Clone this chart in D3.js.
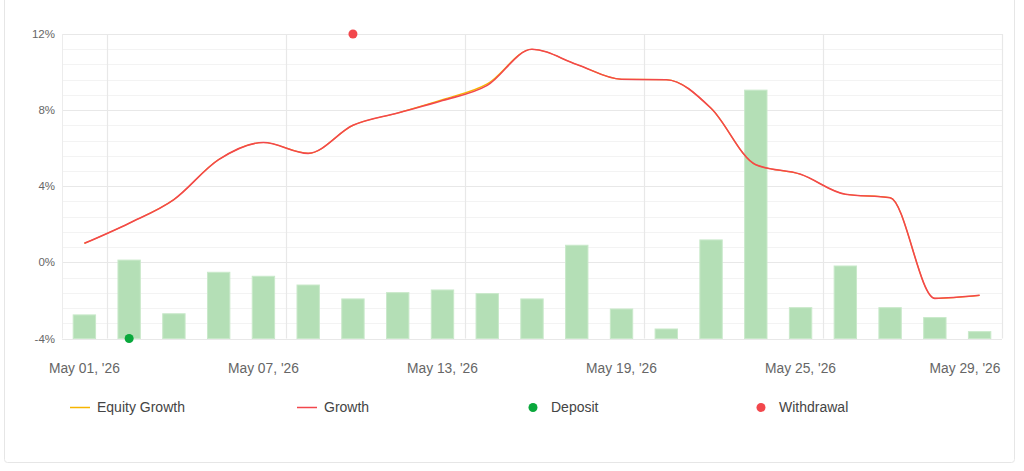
<!DOCTYPE html>
<html>
<head>
<meta charset="utf-8">
<script src="https://cdn.jsdelivr.net/npm/d3@7"></script>
<style>
  html, body { margin: 0; padding: 0; background: #fff; }
  svg { display: block; font-family: "Liberation Sans", Arial, sans-serif; }
  .y-label { fill: #666; font-size: 11.5px; }
  .x-label { fill: #666; font-size: 13.8px; }
  .legend text { fill: #444; font-size: 14px; }
</style>
</head>
<body>
<div id="chart"></div>
<script>
// trading days of May 2026
const DAYS = ["May 01", "May 04", "May 05", "May 06", "May 07", "May 08", "May 11", "May 12",
              "May 13", "May 14", "May 15", "May 18", "May 19", "May 20", "May 21", "May 22",
              "May 25", "May 26", "May 27", "May 28", "May 29"];
const TICK_DAYS = ["May 01", "May 07", "May 13", "May 19", "May 25", "May 29"];

// daily result bars (%), growth curves (%)
const DAILY   = [-2.76, 0.12, -2.7, -0.52, -0.73, -1.19, -1.92, -1.59, -1.45, -1.64, -1.92,
                 0.9, -2.45, -3.5, 1.18, 9.05, -2.38, -0.19, -2.38, -2.9, -3.64];
const GROWTH  = [1.0, 2.06, 3.3, 5.4, 6.3, 5.73, 7.2, 7.85, 8.5, 9.3, 11.2,
                 10.4, 9.62, 9.6, 8.1, 5.13, 4.63, 3.58, 3.4, -1.89, -1.73];
const EQUITY  = [1.0, 2.06, 3.3, 5.4, 6.3, 5.73, 7.2, 7.85, 8.55, 9.38, 11.2,
                 10.4, 9.62, 9.6, 8.1, 5.13, 4.63, 3.58, 3.4, -1.89, -1.73];
const DEPOSITS    = ["May 04"];
const WITHDRAWALS = ["May 11"];
const Y_TICKS = [-4, 0, 4, 8, 12];

const W = 1024, H = 471;
const M = { left: 62, right: 22, top: 34, bottom: 132 };
const RED = "#f2474c", ORANGE = "#f7b500", GREEN = "#0aa83c", BAR = "#b4dfb6";

const svg = d3.select("#chart").append("svg").attr("width", W).attr("height", H);

// card frame
svg.append("rect").attr("x", 4.5).attr("y", -4).attr("width", 1010).attr("height", 466.5)
    .attr("rx", 3).attr("fill", "none").attr("stroke", "#e6e6e6");

const x = d3.scaleBand().domain(DAYS).range([M.left, W - M.right]).paddingInner(0.5).paddingOuter(0.25);
const step = x.step();
const y = d3.scaleLinear().domain([-4, 12]).range([H - M.bottom - 0.5, M.top]);
const cx = d => x(d) + x.bandwidth() / 2;

// horizontal grid: minor every 0.8%, major every 4%
const minor = d3.range(-4, 12.01, 0.8);
svg.append("g").selectAll("line").data(minor).join("line")
    .attr("x1", M.left).attr("x2", W - M.right)
    .attr("y1", d => Math.round(y(d)) + 0.5).attr("y2", d => Math.round(y(d)) + 0.5)
    .attr("stroke", "#f3f3f3");
svg.append("g").selectAll("line").data(Y_TICKS).join("line")
    .attr("x1", M.left).attr("x2", W - M.right)
    .attr("y1", d => Math.round(y(d)) + 0.5).attr("y2", d => Math.round(y(d)) + 0.5)
    .attr("stroke", "#e8e8e8").attr("stroke-width", 1.2);

// vertical grid at the band boundary right of each label
const vIdx = [1, 5, 9, 13, 17];
svg.append("g").selectAll("line").data(vIdx).join("line")
    .attr("x1", i => Math.round(M.left + i * step) + 0.5).attr("x2", i => Math.round(M.left + i * step) + 0.5)
    .attr("y1", M.top).attr("y2", y(-4))
    .attr("stroke", "#e8e8e8").attr("stroke-width", 1.2);
svg.append("line").attr("x1", M.left + 0.5).attr("x2", M.left + 0.5)
    .attr("y1", M.top).attr("y2", y(-4)).attr("stroke", "#ececec");
svg.append("line").attr("x1", W - M.right + 0.5).attr("x2", W - M.right + 0.5)
    .attr("y1", M.top).attr("y2", y(-4)).attr("stroke", "#e8e8e8").attr("stroke-width", 1.2);

// y labels
svg.append("g").selectAll("text").data(Y_TICKS).join("text")
    .attr("class", "y-label").attr("x", M.left - 7).attr("y", d => y(d) + 4)
    .attr("text-anchor", "end").text(d => d + "%");

// x labels (last one kept inside the plot)
svg.append("g").selectAll("text").data(TICK_DAYS).join("text")
    .attr("class", "x-label")
    .attr("x", d => Math.min(cx(d), W - M.right - 37))
    .attr("y", 373).attr("text-anchor", "middle").text(d => d + ", '26");

// bars from the bottom of the axis
svg.append("g").selectAll("rect").data(DAYS).join("rect")
    .attr("x", d => x(d)).attr("width", x.bandwidth())
    .attr("y", (d, i) => y(DAILY[i])).attr("height", (d, i) => y(-4) - y(DAILY[i]))
    .attr("fill", BAR).attr("stroke", "#c9e9ca").attr("stroke-width", 1);

// curves
const line = vals => d3.line().x((d, i) => cx(DAYS[i])).y(d => y(d)).curve(d3.curveMonotoneX)(vals);
svg.append("path").attr("d", line(EQUITY)).attr("fill", "none").attr("stroke", ORANGE).attr("stroke-width", 1.2);
svg.append("path").attr("d", line(GROWTH)).attr("fill", "none").attr("stroke", RED).attr("stroke-width", 1.6);

// deposit / withdrawal markers
svg.append("g").selectAll("circle").data(DEPOSITS).join("circle")
    .attr("cx", d => cx(d)).attr("cy", y(-4)).attr("r", 4.5).attr("fill", GREEN);
svg.append("g").selectAll("circle").data(WITHDRAWALS).join("circle")
    .attr("cx", d => cx(d)).attr("cy", y(12)).attr("r", 4.5).attr("fill", RED);

// legend
const LEGEND = [
  { name: "Equity Growth", kind: "line", color: ORANGE, x: 70 },
  { name: "Growth", kind: "line", color: RED, x: 297 },
  { name: "Deposit", kind: "dot", color: GREEN, x: 527 },
  { name: "Withdrawal", kind: "dot", color: RED, x: 755 }
];
const lg = svg.append("g").attr("class", "legend");
LEGEND.forEach(it => {
  const g = lg.append("g").attr("transform", `translate(${it.x},407)`);
  if (it.kind === "line") {
    g.append("line").attr("x1", 0).attr("x2", 20).attr("y1", 0.5).attr("y2", 0.5)
        .attr("stroke", it.color).attr("stroke-width", 1.5);
    g.append("text").attr("x", 27).attr("y", 5).text(it.name);
  } else {
    g.append("circle").attr("cx", 6).attr("cy", 0.5).attr("r", 4.5).attr("fill", it.color);
    g.append("text").attr("x", 24).attr("y", 5).text(it.name);
  }
});
</script>
</body>
</html>
